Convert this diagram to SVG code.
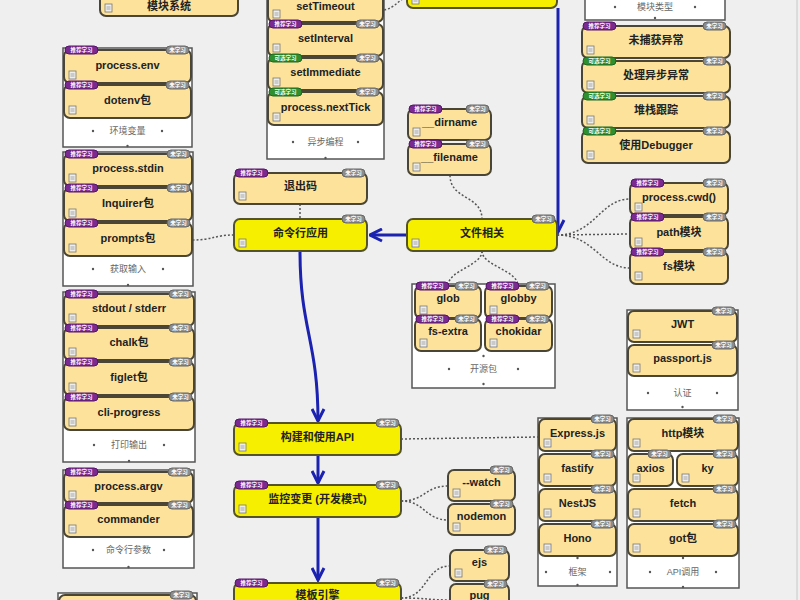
<svg xmlns="http://www.w3.org/2000/svg" xmlns:xlink="http://www.w3.org/1999/xlink" width="800" height="600" viewBox="0 0 800 600">
<style>
.n{fill:#fde29c;stroke:#4a4535;stroke-width:2}
.y{fill:#f6f000;stroke:#55532a;stroke-width:2}
.f{fill:#fff;stroke:#555;stroke-width:1.5}
.t{font-family:"Liberation Sans","Noto Sans CJK SC",sans-serif;font-weight:bold;font-size:11px;fill:#222;text-anchor:middle}
.l{font-family:"Liberation Sans","Noto Sans CJK SC",sans-serif;font-size:9px;fill:#666;text-anchor:middle}
.b{font-family:"Noto Sans CJK SC",sans-serif;font-size:5.5px;fill:#fff;text-anchor:middle;font-weight:bold}
.c{fill:none;stroke:#555;stroke-width:1.5;stroke-dasharray:2 2}
.a{fill:none;stroke:#1b22b0;stroke-width:3;marker-end:url(#ah)}
.d{fill:#555}
</style>
<defs>
<marker id="ah" viewBox="0 0 10 10" refX="9" refY="5" markerWidth="5" markerHeight="5" orient="auto" markerUnits="strokeWidth">
<path d="M1,1 L9,5 L1,9" fill="none" stroke="#1b22b0" stroke-width="2"/>
</marker>
<g id="bp"><rect x="0" y="0" width="33" height="8" rx="4" fill="#7b2a8f" stroke="#55146a" stroke-width="1"/><text class="b" x="16.5" y="6.3">推荐学习</text></g>
<g id="bg"><rect x="0" y="0" width="33" height="8" rx="4" fill="#2f8f2f" stroke="#1d661d" stroke-width="1"/><text class="b" x="16.5" y="6.3">可选学习</text></g>
<g id="bn"><rect x="0" y="0" width="23" height="8" rx="4" fill="#8c8c8c" stroke="#666" stroke-width="1"/><text class="b" x="11.5" y="6.3">未学习</text></g>
<g id="ic"><rect x="0" y="0" width="7" height="8" fill="#eee" stroke="#777" stroke-width="0.8"/><path d="M1.5,3 H5.5 M1.5,5 H5.5" stroke="#888" stroke-width="0.7"/></g>
</defs>
<rect x="0" y="0" width="800" height="600" fill="#efefef"/>
<line x1="797" y1="0" x2="797" y2="600" stroke="#c8c8c8" stroke-width="1"/>

<!-- connectors -->
<g id="connectors">
<path class="c" d="M384,10 C395,8 398,0 407,-3"/>
<path class="c" d="M450,175 C450,200 482,195 482,219"/>
<path class="c" d="M300,204 L300,219"/>
<path class="c" d="M234,235 C215,235 212,240 193,240"/>
<path class="c" d="M482,251 C482,266 448,270 448,286"/>
<path class="c" d="M482,251 C482,266 518,270 518,286"/>
<path class="c" d="M557,235 C595,235 600,199 630,199"/>
<path class="c" d="M557,235 L630,234"/>
<path class="c" d="M557,235 C595,235 600,268 630,268"/>
<path class="c" d="M401,439 L538,437"/>
<path class="c" d="M401,501 C425,501 425,486 448,486"/>
<path class="c" d="M401,501 C425,501 425,520 448,520"/>
<path class="c" d="M401,598 C428,598 425,566 450,566"/>
<path class="c" d="M401,598 C425,598 430,600 450,600"/>
<path class="a" d="M558,8 L558,232"/>
<path class="a" d="M407,235 L370,235"/>
<path class="a" d="M300,251 C300,330 318,340 318,421"/>
<path class="a" d="M318,455 L318,483"/>
<path class="a" d="M318,517 L318,580"/>
</g>

<!-- top partial node -->
<g id="top-left-node">
<rect class="n" x="100" y="-20" width="138" height="36" rx="6"/>
<use href="#ic" x="105" y="4"/>
<text class="t" x="169" y="10">模块系统</text>
</g>

<!-- env group -->
<g id="grp-env">
<rect class="f" x="63" y="48" width="129" height="99"/>
<text class="l" x="127.5" y="134">环境变量</text>
<circle class="d" cx="93" cy="131" r="1.2"/><circle class="d" cx="162" cy="131" r="1.2"/>
<circle class="d" cx="127.5" cy="146" r="1.2"/>
</g>
<g id="n-process-env"><rect class="n" x="64" y="50" width="127" height="33" rx="6"/><use href="#bp" x="65" y="46"/><use href="#bn" x="166" y="46"/><use href="#ic" x="69" y="71"/><text class="t" x="127.5" y="68.5">process.env</text></g>
<g id="n-dotenv"><rect class="n" x="64" y="85" width="127" height="33" rx="6"/><use href="#bp" x="65" y="81"/><use href="#bn" x="166" y="81"/><use href="#ic" x="69" y="106"/><text class="t" x="127.5" y="103.5">dotenv包</text></g>

<!-- input group -->
<g id="grp-input">
<rect class="f" x="63" y="152" width="130" height="134"/>
<text class="l" x="128" y="272">获取输入</text>
<circle class="d" cx="93" cy="269" r="1.2"/><circle class="d" cx="163" cy="269" r="1.2"/>
<circle class="d" cx="128" cy="285" r="1.2"/>
</g>
<g id="n-stdin"><rect class="n" x="64" y="154" width="128" height="32" rx="6"/><use href="#bp" x="65" y="150"/><use href="#bn" x="167" y="150"/><use href="#ic" x="69" y="174"/><text class="t" x="128" y="172">process.stdin</text></g>
<g id="n-inquirer"><rect class="n" x="64" y="188" width="128" height="33" rx="6"/><use href="#bp" x="65" y="184"/><use href="#bn" x="167" y="184"/><use href="#ic" x="69" y="209"/><text class="t" x="128" y="206.5">Inquirer包</text></g>
<g id="n-prompts"><rect class="n" x="64" y="223" width="128" height="33" rx="6"/><use href="#bp" x="65" y="219"/><use href="#bn" x="167" y="219"/><use href="#ic" x="69" y="244"/><text class="t" x="128" y="241.5">prompts包</text></g>

<!-- output group -->
<g id="grp-output">
<rect class="f" x="63" y="292" width="132" height="170"/>
<text class="l" x="129" y="448">打印输出</text>
<circle class="d" cx="94" cy="445" r="1.2"/><circle class="d" cx="164" cy="445" r="1.2"/>
<circle class="d" cx="129" cy="461" r="1.2"/>
</g>
<g id="n-stdout"><rect class="n" x="64" y="294" width="130" height="32" rx="6"/><use href="#bp" x="65" y="290"/><use href="#bn" x="169" y="290"/><use href="#ic" x="69" y="314"/><text class="t" x="129" y="312">stdout / stderr</text></g>
<g id="n-chalk"><rect class="n" x="64" y="328" width="130" height="32" rx="6"/><use href="#bp" x="65" y="324"/><use href="#bn" x="169" y="324"/><use href="#ic" x="69" y="348"/><text class="t" x="129" y="346">chalk包</text></g>
<g id="n-figlet"><rect class="n" x="64" y="362" width="130" height="33" rx="6"/><use href="#bp" x="65" y="358"/><use href="#bn" x="169" y="358"/><use href="#ic" x="69" y="383"/><text class="t" x="129" y="380.5">figlet包</text></g>
<g id="n-cliprogress"><rect class="n" x="64" y="397" width="130" height="33" rx="6"/><use href="#bp" x="65" y="393"/><use href="#bn" x="169" y="393"/><use href="#ic" x="69" y="418"/><text class="t" x="129" y="415.5">cli-progress</text></g>

<!-- args group -->
<g id="grp-args">
<rect class="f" x="63" y="470" width="131" height="98"/>
<text class="l" x="128.5" y="553">命令行参数</text>
<circle class="d" cx="93" cy="550" r="1.2"/><circle class="d" cx="164" cy="550" r="1.2"/>
<circle class="d" cx="128.5" cy="567" r="1.2"/>
</g>
<g id="n-argv"><rect class="n" x="64" y="472" width="129" height="31" rx="6"/><use href="#bp" x="65" y="468"/><use href="#bn" x="168" y="468"/><use href="#ic" x="69" y="491"/><text class="t" x="128.5" y="489.5">process.argv</text></g>
<g id="n-commander"><rect class="n" x="64" y="505" width="129" height="32" rx="6"/><use href="#bp" x="65" y="501"/><use href="#bn" x="168" y="501"/><use href="#ic" x="69" y="525"/><text class="t" x="128.5" y="523">commander</text></g>

<!-- bottom-left partial -->
<g id="grp-bottom-left">
<rect class="f" x="58" y="593" width="139" height="30"/>
<rect class="n" x="59" y="595" width="137" height="30" rx="6"/>
<use href="#bn" x="170" y="591"/>
</g>

<!-- async group -->
<g id="grp-async">
<rect class="f" x="267" y="-30" width="117" height="189"/>
<text class="l" x="325.5" y="145">异步编程</text>
<circle class="d" cx="293" cy="142" r="1.2"/><circle class="d" cx="358" cy="142" r="1.2"/>
<circle class="d" cx="325.5" cy="158" r="1.2"/>
</g>
<g id="n-settimeout"><rect class="n" x="268" y="-12" width="115" height="34" rx="6"/><use href="#bn" x="356" y="-16"/><use href="#ic" x="273" y="10"/><text class="t" x="325.5" y="10">setTimeout</text></g>
<g id="n-setinterval"><rect class="n" x="268" y="24" width="115" height="32" rx="6"/><use href="#bp" x="269" y="20"/><use href="#bn" x="356" y="20"/><use href="#ic" x="273" y="44"/><text class="t" x="325.5" y="42">setInterval</text></g>
<g id="n-setimmediate"><rect class="n" x="268" y="58" width="115" height="32" rx="6"/><use href="#bg" x="269" y="54"/><use href="#bn" x="356" y="54"/><use href="#ic" x="273" y="78"/><text class="t" x="325.5" y="76">setImmediate</text></g>
<g id="n-nexttick"><rect class="n" x="268" y="92" width="115" height="33" rx="6"/><use href="#bg" x="269" y="88"/><use href="#bn" x="356" y="88"/><use href="#ic" x="273" y="113"/><text class="t" x="325.5" y="110.5">process.nextTick</text></g>

<!-- top yellow -->
<g id="n-top-yellow"><rect class="y" x="407" y="-25" width="150" height="33" rx="6"/><use href="#ic" x="412" y="-4"/></g>

<!-- top-right group -->
<g id="grp-top-right">
<rect class="f" x="585" y="-30" width="140" height="50"/>
<text class="l" x="655" y="10">模块类型</text>
<circle class="d" cx="615" cy="7" r="1.2"/><circle class="d" cx="695" cy="7" r="1.2"/>
<circle class="d" cx="655" cy="18" r="1.2"/>
</g>
<g id="n-uncaught"><rect class="n" x="582" y="26" width="148" height="32" rx="6"/><use href="#bp" x="583" y="22"/><use href="#bn" x="703" y="22"/><use href="#ic" x="587" y="46"/><text class="t" x="656" y="44">未捕获异常</text></g>
<g id="n-asyncerr"><rect class="n" x="582" y="61" width="148" height="32" rx="6"/><use href="#bg" x="583" y="57"/><use href="#bn" x="703" y="57"/><use href="#ic" x="587" y="81"/><text class="t" x="656" y="79">处理异步异常</text></g>
<g id="n-stacktrace"><rect class="n" x="582" y="96" width="148" height="32" rx="6"/><use href="#bg" x="583" y="92"/><use href="#bn" x="703" y="92"/><use href="#ic" x="587" y="116"/><text class="t" x="656" y="114">堆栈跟踪</text></g>
<g id="n-debugger"><rect class="n" x="582" y="131" width="148" height="32" rx="6"/><use href="#bg" x="583" y="127"/><use href="#bn" x="703" y="127"/><use href="#ic" x="587" y="151"/><text class="t" x="656" y="149">使用Debugger</text></g>

<!-- dirname / filename -->
<g id="n-dirname"><rect class="n" x="408" y="109" width="83" height="31" rx="6"/><use href="#bp" x="409" y="105"/><use href="#bn" x="466" y="105"/><use href="#ic" x="413" y="128"/><text class="t" x="449.5" y="125.5">__dirname</text></g>
<g id="n-filename"><rect class="n" x="408" y="144" width="83" height="31" rx="6"/><use href="#bp" x="409" y="140"/><use href="#bn" x="466" y="140"/><use href="#ic" x="413" y="163"/><text class="t" x="449.5" y="160.5">__filename</text></g>

<g id="n-exitcode"><rect class="n" x="234" y="173" width="133" height="31" rx="6"/><use href="#bp" x="235" y="169"/><use href="#bn" x="342" y="169"/><use href="#ic" x="239" y="192"/><text class="t" x="300.5" y="190">退出码</text></g>
<g id="n-cli"><rect class="y" x="234" y="219" width="133" height="32" rx="6"/><use href="#bn" x="342" y="215"/><use href="#ic" x="239" y="239"/><text class="t" x="300.5" y="237">命令行应用</text></g>
<g id="n-files"><rect class="y" x="407" y="219" width="150" height="32" rx="6"/><use href="#bn" x="532" y="215"/><use href="#ic" x="412" y="239"/><text class="t" x="482" y="237">文件相关</text></g>

<!-- open source group -->
<g id="grp-oss">
<rect class="f" x="412" y="284" width="143" height="104"/>
<text class="l" x="483.5" y="372">开源包</text>
<circle class="d" cx="449" cy="369" r="1.2"/><circle class="d" cx="518" cy="369" r="1.2"/>
<circle class="d" cx="483.5" cy="356" r="1.2"/><circle class="d" cx="483.5" cy="384" r="1.2"/>
</g>
<g id="n-glob"><rect class="n" x="415" y="286" width="66" height="32" rx="6"/><use href="#bp" x="416" y="282"/><use href="#bn" x="455" y="282"/><use href="#ic" x="420" y="306"/><text class="t" x="448" y="302">glob</text></g>
<g id="n-globby"><rect class="n" x="485" y="286" width="67" height="32" rx="6"/><use href="#bp" x="486" y="282"/><use href="#bn" x="526" y="282"/><use href="#ic" x="490" y="306"/><text class="t" x="518.5" y="302">globby</text></g>
<g id="n-fsextra"><rect class="n" x="415" y="319" width="66" height="32" rx="6"/><use href="#bp" x="416" y="315"/><use href="#bn" x="455" y="315"/><use href="#ic" x="420" y="339"/><text class="t" x="448" y="335">fs-extra</text></g>
<g id="n-chokidar"><rect class="n" x="485" y="319" width="67" height="32" rx="6"/><use href="#bp" x="486" y="315"/><use href="#bn" x="526" y="315"/><use href="#ic" x="490" y="339"/><text class="t" x="518.5" y="335">chokidar</text></g>

<!-- path modules -->
<g id="n-cwd"><rect class="n" x="630" y="183" width="98" height="32" rx="6"/><use href="#bp" x="631" y="179"/><use href="#bn" x="703" y="179"/><use href="#ic" x="635" y="203"/><text class="t" x="679" y="201">process.cwd()</text></g>
<g id="n-path"><rect class="n" x="630" y="217" width="98" height="33" rx="6"/><use href="#bp" x="631" y="213"/><use href="#bn" x="703" y="213"/><use href="#ic" x="635" y="238"/><text class="t" x="679" y="235.5">path模块</text></g>
<g id="n-fs"><rect class="n" x="630" y="252" width="98" height="32" rx="6"/><use href="#bp" x="631" y="248"/><use href="#bn" x="703" y="248"/><use href="#ic" x="635" y="272"/><text class="t" x="679" y="270">fs模块</text></g>

<!-- auth group -->
<g id="grp-auth">
<rect class="f" x="627" y="310" width="111" height="100"/>
<text class="l" x="682.5" y="396">认证</text>
<circle class="d" cx="648" cy="393" r="1.2"/><circle class="d" cx="717" cy="393" r="1.2"/>
<circle class="d" cx="682.5" cy="407" r="1.2"/>
</g>
<g id="n-jwt"><rect class="n" x="628" y="311" width="109" height="31" rx="6"/><use href="#bn" x="712" y="307"/><use href="#ic" x="633" y="330"/><text class="t" x="682.5" y="328">JWT</text></g>
<g id="n-passport"><rect class="n" x="628" y="345" width="109" height="31" rx="6"/><use href="#bn" x="712" y="341"/><use href="#ic" x="633" y="364"/><text class="t" x="682.5" y="362">passport.js</text></g>

<!-- main chain bottom -->
<g id="n-api"><rect class="y" x="234" y="423" width="167" height="32" rx="6"/><use href="#bp" x="235" y="419"/><use href="#bn" x="376" y="419"/><use href="#ic" x="239" y="443"/><text class="t" x="317.5" y="441">构建和使用API</text></g>
<g id="n-watch-mode"><rect class="y" x="234" y="485" width="167" height="32" rx="6"/><use href="#bp" x="235" y="481"/><use href="#bn" x="376" y="481"/><use href="#ic" x="239" y="505"/><text class="t" x="317.5" y="503">监控变更 (开发模式)</text></g>
<g id="n-template"><rect class="y" x="234" y="583" width="167" height="32" rx="6"/><use href="#bp" x="235" y="579"/><use href="#bn" x="376" y="579"/><text class="t" x="317.5" y="599">模板引擎</text></g>

<g id="n-watch"><rect class="n" x="448" y="470" width="67" height="31" rx="6"/><use href="#bn" x="490" y="466"/><use href="#ic" x="453" y="489"/><text class="t" x="481.5" y="486">--watch</text></g>
<g id="n-nodemon"><rect class="n" x="448" y="504" width="67" height="31" rx="6"/><use href="#bn" x="490" y="500"/><use href="#ic" x="453" y="523"/><text class="t" x="481.5" y="520">nodemon</text></g>
<g id="n-ejs"><rect class="n" x="450" y="550" width="59" height="31" rx="6"/><use href="#bn" x="484" y="546"/><use href="#ic" x="455" y="569"/><text class="t" x="479.5" y="566">ejs</text></g>
<g id="n-pug"><rect class="n" x="450" y="584" width="59" height="31" rx="6"/><use href="#bn" x="484" y="580"/><text class="t" x="479.5" y="599">pug</text></g>

<!-- frameworks group -->
<g id="grp-frameworks">
<rect class="f" x="538" y="418" width="79" height="168"/>
<text class="l" x="577.5" y="575">框架</text>
<circle class="d" cx="546" cy="572" r="1.2"/><circle class="d" cx="610" cy="572" r="1.2"/>
<circle class="d" cx="577.5" cy="558" r="1.2"/><circle class="d" cx="577.5" cy="585" r="1.2"/>
</g>
<g id="n-express"><rect class="n" x="539" y="419" width="77" height="32" rx="6"/><use href="#bn" x="591" y="415"/><use href="#ic" x="544" y="439"/><text class="t" x="577.5" y="437">Express.js</text></g>
<g id="n-fastify"><rect class="n" x="539" y="454" width="77" height="32" rx="6"/><use href="#bn" x="591" y="450"/><use href="#ic" x="544" y="474"/><text class="t" x="577.5" y="472">fastify</text></g>
<g id="n-nestjs"><rect class="n" x="539" y="489" width="77" height="32" rx="6"/><use href="#bn" x="591" y="485"/><use href="#ic" x="544" y="509"/><text class="t" x="577.5" y="507">NestJS</text></g>
<g id="n-hono"><rect class="n" x="539" y="524" width="77" height="32" rx="6"/><use href="#bn" x="591" y="520"/><use href="#ic" x="544" y="544"/><text class="t" x="577.5" y="542">Hono</text></g>

<!-- API call group -->
<g id="grp-apicall">
<rect class="f" x="627" y="418" width="112" height="170"/>
<text class="l" x="683" y="575">API调用</text>
<circle class="d" cx="650" cy="572" r="1.2"/><circle class="d" cx="716" cy="572" r="1.2"/>
<circle class="d" cx="683" cy="558" r="1.2"/><circle class="d" cx="683" cy="587" r="1.2"/>
</g>
<g id="n-http"><rect class="n" x="628" y="419" width="110" height="32" rx="6"/><use href="#bn" x="713" y="415"/><use href="#ic" x="633" y="439"/><text class="t" x="683" y="437">http模块</text></g>
<g id="n-axios"><rect class="n" x="628" y="454" width="45" height="32" rx="6"/><use href="#bn" x="648" y="450"/><use href="#ic" x="633" y="474"/><text class="t" x="650.5" y="472">axios</text></g>
<g id="n-ky"><rect class="n" x="677" y="454" width="61" height="32" rx="6"/><use href="#bn" x="713" y="450"/><use href="#ic" x="682" y="474"/><text class="t" x="707.5" y="472">ky</text></g>
<g id="n-fetch"><rect class="n" x="628" y="489" width="110" height="32" rx="6"/><use href="#bn" x="713" y="485"/><use href="#ic" x="633" y="509"/><text class="t" x="683" y="507">fetch</text></g>
<g id="n-got"><rect class="n" x="628" y="524" width="110" height="32" rx="6"/><use href="#bn" x="713" y="520"/><use href="#ic" x="633" y="544"/><text class="t" x="683" y="542">got包</text></g>
</svg>
